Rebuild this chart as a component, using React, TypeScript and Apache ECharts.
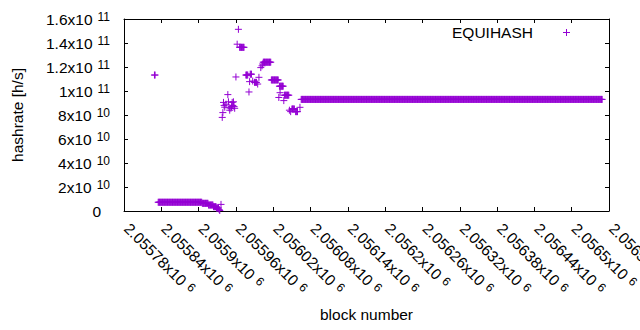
import React, { useEffect, useRef } from "react";
import * as echarts from "echarts";

// ---- axes ----
const xMin = 2055780;
const xMax = 2056560;
const xStep = 60;
const yMax = 160; // in 1e9 h/s
const yStep = 20;

const seriesName = "EQUIHASH";
const xTitle = "block number";
const yTitle = "hashrate [h/s]";

// ---- data (hashrate in 1e9 h/s) ----
// runs of consecutive blocks whose hashrate reads as constant in the picture
const runFirstBlock = [2055829, 2055835, 2055906, 2055916, 2055924, 2055929, 2055966, 2055976, 2055983, 2055990, 2056004, 2056017, 2056030, 2056038, 2056050, 2056056, 2056065];
const runLastBlock = [2055830, 2055905, 2055915, 2055923, 2055928, 2055932, 2055973, 2055979, 2055985, 2055993, 2056016, 2056028, 2056036, 2056045, 2056054, 2056059, 2056549];
const runHashrate = [113.3, 7.3, 6.4, 5.0, 3.6, 2.4, 136.4, 113.3, 114, 107.2, 124, 109.2, 104, 96.5, 85, 82.8, 93];

// isolated blocks
const pointBlock = [
  2055933, 2055934, 2055936, 2055938, 2055939, 2055940, 2055941, 2055942, 2055944, 2055947,
  2055948, 2055949, 2055950, 2055952, 2055953, 2055954, 2055955, 2055956, 2055957, 2055958,
  2055960, 2055962, 2055964, 2055981, 2055982, 2055987, 2055995, 2055997, 2056000, 2056002,
  2056003, 2056029, 2056031, 2056037, 2056046, 2056048, 2056063,
];
const pointHashrate = [
  1.2, 0.4, 5.5, 78, 82, 90.5, 88, 86.5, 89, 97,
  91, 86, 84, 85.6, 87, 90.5, 88, 91, 87, 85.6,
  111.7, 139, 151.4, 99.2, 107.8, 108.3, 105.8, 111.4, 119.5, 121,
  122.5, 94.6, 98.6, 92, 84, 82.8, 86.4,
];

const COLOR = "#9400d3";
const FONT = "Liberation Sans, Arial, sans-serif";
const FS = 15.5;
const PLUS = "path://M0,3.5L7,3.5M3.5,0L3.5,7";

function sciLabel(v: number): string {
  if (v === 0) return "{z|0}";
  const exp = Math.floor(Math.log10(Math.abs(v)) + 1e-9);
  const mant = parseFloat((v / Math.pow(10, exp)).toFixed(6));
  return `{m|${mant}x10}{e|${exp}}`;
}

const rich = {
  m: { fontSize: FS, fontFamily: FONT, color: "#000" },
  e: { fontSize: 12, fontFamily: FONT, color: "#000", verticalAlign: "top", padding: [0, 0, 0, 5] },
  z: { fontSize: FS, fontFamily: FONT, color: "#000", padding: [0, 9, 0, 0] },
};

export default function App() {
  const ref = useRef<HTMLDivElement>(null);
  useEffect(() => {
    if (!ref.current) return;
    const chart = echarts.init(ref.current, undefined, { renderer: "svg" });

    const data: number[][] = [];
    for (let i = 0; i < runFirstBlock.length; i++) {
      for (let b = runFirstBlock[i]; b <= runLastBlock[i]; b++) data.push([b, runHashrate[i]]);
    }
    for (let i = 0; i < pointBlock.length; i++) data.push([pointBlock[i], pointHashrate[i]]);

    const axisLine = { show: true, onZero: false, lineStyle: { color: "#000", width: 1 } };
    const tick = { show: true, inside: true, length: 4, lineStyle: { color: "#000", width: 1 } };

    chart.setOption({
      animation: false,
      textStyle: { fontFamily: FONT },
      grid: { left: 124, right: 31, top: 19, bottom: 119, containLabel: false, outerBoundsMode: "none" },
      xAxis: [
        {
          type: "value", min: xMin, max: xMax, interval: xStep, position: "bottom",
          axisLine, axisTick: tick, splitLine: { show: false },
          axisLabel: { rotate: -45, margin: 12, padding: [0, 0, 0, 4], formatter: (v: number) => sciLabel(v), rich },
          name: xTitle, nameLocation: "middle", nameGap: 95,
          nameTextStyle: { fontSize: FS, color: "#000", fontFamily: FONT },
        },
        {
          type: "value", min: xMin, max: xMax, interval: xStep, position: "top",
          axisLine, axisTick: tick, splitLine: { show: false }, axisLabel: { show: false },
        },
      ],
      yAxis: [
        {
          type: "value", min: 0, max: yMax, interval: yStep, position: "left",
          axisLine, axisTick: tick, splitLine: { show: false },
          axisLabel: { margin: 14, formatter: (v: number) => sciLabel(v * 1e9), rich },
          name: yTitle, nameLocation: "middle", nameGap: 99,
          nameTextStyle: { fontSize: FS, color: "#000", fontFamily: FONT },
        },
        {
          type: "value", min: 0, max: yMax, interval: yStep, position: "right",
          axisLine, axisTick: tick, splitLine: { show: false }, axisLabel: { show: false },
        },
      ],
      series: [
        {
          name: seriesName,
          type: "scatter",
          xAxisIndex: 0,
          yAxisIndex: 0,
          symbol: PLUS,
          symbolSize: 7,
          itemStyle: { color: COLOR, borderColor: COLOR, borderWidth: 1, opacity: 1 },
          data,
        },
      ],
      graphic: [
        {
          type: "text", x: 533, y: 32,
          style: { text: seriesName, align: "right", verticalAlign: "middle", font: `${FS}px ${FONT}`, fill: "#000" },
        },
        { type: "line", shape: { x1: 563, y1: 32.5, x2: 570, y2: 32.5 }, style: { stroke: COLOR, lineWidth: 1 } },
        { type: "line", shape: { x1: 566.5, y1: 29, x2: 566.5, y2: 36 }, style: { stroke: COLOR, lineWidth: 1 } },
      ],
    });
    return () => chart.dispose();
  }, []);
  return <div ref={ref} style={{ position: "fixed", left: 0, top: 0, width: 640, height: 330, background: "#fff" }} />;
}
